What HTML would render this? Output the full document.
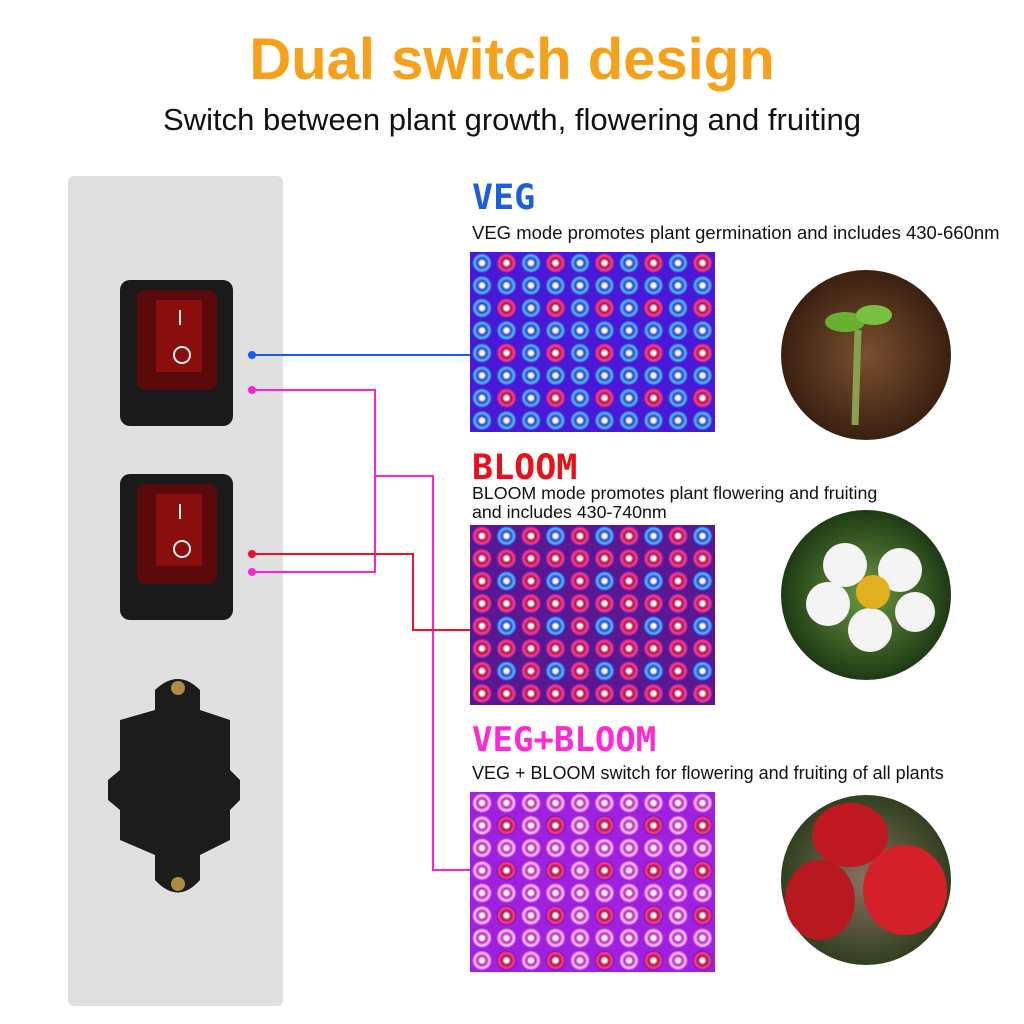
<!DOCTYPE html>
<html><head><style>
body{margin:0;width:1024px;height:1024px;background:#fff;position:relative;overflow:hidden;font-family:"Liberation Sans",sans-serif}
.t{position:absolute;white-space:nowrap}
</style></head><body>
<div class="t" style="left:0;width:1024px;text-align:center;top:26px;font-size:58px;font-weight:bold;color:#f7a11a">Dual switch design</div>
<div class="t" style="left:0;width:1024px;text-align:center;top:102px;font-size:31px;color:#111">Switch between plant growth, flowering and fruiting</div>

<div class="t" style="left:472px;top:178px;font-size:35px;font-weight:bold;color:#1b5fe0;font-family:'DejaVu Sans Mono',monospace">VEG</div>
<div class="t" style="left:472px;top:222px;font-size:18.5px;color:#111">VEG mode promotes plant germination and includes 430-660nm</div>
<div class="t" style="left:472px;top:448px;font-size:35px;font-weight:bold;color:#e8101a;font-family:'DejaVu Sans Mono',monospace">BLOOM</div>
<div class="t" style="left:472px;top:484px;font-size:17.8px;color:#111;line-height:19px">BLOOM mode promotes plant flowering and fruiting<br>and includes 430-740nm</div>
<div class="t" style="left:472px;top:720px;font-size:34px;font-weight:bold;color:#ff2ad6;font-family:'DejaVu Sans Mono',monospace">VEG+BLOOM</div>
<div class="t" style="left:472px;top:763px;font-size:18px;color:#111">VEG + BLOOM switch for flowering and fruiting of all plants</div>

<svg width="1024" height="1024" style="position:absolute;left:0;top:0">
<defs>
<radialGradient id="gb"><stop offset="0.2" stop-color="#fff"/><stop offset="0.45" stop-color="#3040d0"/><stop offset="0.75" stop-color="#50c0ff"/><stop offset="1" stop-color="#3a20d0"/></radialGradient>
<radialGradient id="gr"><stop offset="0.2" stop-color="#fff"/><stop offset="0.45" stop-color="#b01050"/><stop offset="0.75" stop-color="#ff4080"/><stop offset="1" stop-color="#6a10c0"/></radialGradient>
<radialGradient id="gm"><stop offset="0.2" stop-color="#fff"/><stop offset="0.45" stop-color="#c020c0"/><stop offset="0.75" stop-color="#ffd0ff"/><stop offset="1" stop-color="#b020e0"/></radialGradient>
<pattern id="p1" x="470" y="252" width="49" height="45" patternUnits="userSpaceOnUse">
<rect width="49" height="45" fill="#4a18d8"/><circle cx="12" cy="11" r="10" fill="url(#gb)"/><circle cx="36.5" cy="11" r="10" fill="url(#gr)"/><circle cx="12" cy="33.5" r="10" fill="url(#gb)"/><circle cx="36.5" cy="33.5" r="10" fill="url(#gb)"/></pattern>
<pattern id="p2" x="470" y="525" width="49" height="45" patternUnits="userSpaceOnUse">
<rect width="49" height="45" fill="#5a1890"/><circle cx="12" cy="11" r="10" fill="url(#gr)"/><circle cx="36.5" cy="11" r="10" fill="url(#gb)"/><circle cx="12" cy="33.5" r="10" fill="url(#gr)"/><circle cx="36.5" cy="33.5" r="10" fill="url(#gr)"/></pattern>
<pattern id="p3" x="470" y="792" width="49" height="45" patternUnits="userSpaceOnUse">
<rect width="49" height="45" fill="#a020e0"/><circle cx="12" cy="11" r="10" fill="url(#gm)"/><circle cx="36.5" cy="11" r="10" fill="url(#gm)"/><circle cx="12" cy="33.5" r="10" fill="url(#gm)"/><circle cx="36.5" cy="33.5" r="10" fill="url(#gr)"/></pattern>
<radialGradient id="soil"><stop offset="0" stop-color="#7a5030"/><stop offset="1" stop-color="#3a2010"/></radialGradient>
<radialGradient id="leaf"><stop offset="0" stop-color="#6a9a40"/><stop offset="1" stop-color="#1e3a14"/></radialGradient>
<radialGradient id="grass"><stop offset="0" stop-color="#8a7060"/><stop offset="1" stop-color="#304020"/></radialGradient>
</defs>
<rect x="470" y="252" width="245" height="180" fill="url(#p1)"/>
<rect x="470" y="525" width="245" height="180" fill="url(#p2)"/>
<rect x="470" y="792" width="245" height="180" fill="url(#p3)"/>

<rect x="68" y="176" width="215" height="830" rx="6" fill="#e0e0e0"/>
<g>
<rect x="120" y="280" width="113" height="146" rx="10" fill="#1a1a1a"/>
<rect x="137" y="290" width="80" height="100" rx="8" fill="#5a0a0a"/>
<rect x="156" y="300" width="46" height="72" fill="#8a0e0e"/>
<line x1="180" y1="310" x2="180" y2="325" stroke="#eee" stroke-width="2"/>
<circle cx="182" cy="355" r="8" fill="none" stroke="#eee" stroke-width="2"/>
</g>
<g transform="translate(0,194)">
<rect x="120" y="280" width="113" height="146" rx="10" fill="#1a1a1a"/>
<rect x="137" y="290" width="80" height="100" rx="8" fill="#5a0a0a"/>
<rect x="156" y="300" width="46" height="72" fill="#8a0e0e"/>
<line x1="180" y1="310" x2="180" y2="325" stroke="#eee" stroke-width="2"/>
<circle cx="182" cy="355" r="8" fill="none" stroke="#eee" stroke-width="2"/>
</g>
<path d="M155 690 Q178 668 200 690 L200 710 L230 720 L230 770 L240 780 L240 800 L230 810 L230 840 L200 855 L200 880 Q178 905 155 880 L155 855 L120 840 L120 810 L108 800 L108 780 L120 770 L120 720 L155 710Z" fill="#1c1c1c"/>
<circle cx="178" cy="688" r="7" fill="#b08a40"/><circle cx="178" cy="884" r="7" fill="#b08a40"/>
<g fill="none" stroke-width="2">
<polyline points="252,355 470,355" stroke="#1a5cf0"/>
<polyline points="252,390 375,390 375,572 252,572" stroke="#ff22cc"/>
<polyline points="375,476 433,476 433,870 470,870" stroke="#ff22cc"/>
<polyline points="252,554 413,554 413,630 470,630" stroke="#ee1030"/>
</g>
<circle cx="252" cy="355" r="4" fill="#1a5cf0"/><circle cx="252" cy="390" r="4" fill="#ff22cc"/>
<circle cx="252" cy="554" r="4" fill="#ee1030"/><circle cx="252" cy="572" r="4" fill="#ff22cc"/>
<circle cx="866" cy="355" r="85" fill="url(#soil)"/>
<path d="M855 425 L858 330" stroke="#8aa050" stroke-width="7"/>
<ellipse cx="845" cy="322" rx="20" ry="10" fill="#6ab030"/><ellipse cx="874" cy="315" rx="18" ry="10" fill="#7ac040"/>
<circle cx="866" cy="595" r="85" fill="url(#leaf)"/>
<g fill="#f4f4f4"><circle cx="845" cy="565" r="22"/><circle cx="900" cy="570" r="22"/><circle cx="915" cy="612" r="20"/><circle cx="870" cy="630" r="22"/><circle cx="828" cy="604" r="22"/></g>
<circle cx="873" cy="592" r="17" fill="#e0b020"/>
<circle cx="866" cy="880" r="85" fill="url(#grass)"/>
<ellipse cx="850" cy="835" rx="38" ry="32" fill="#c01820"/>
<ellipse cx="905" cy="890" rx="42" ry="45" fill="#d42028"/>
<ellipse cx="820" cy="900" rx="35" ry="40" fill="#b81820"/>
</svg>
</body></html>
